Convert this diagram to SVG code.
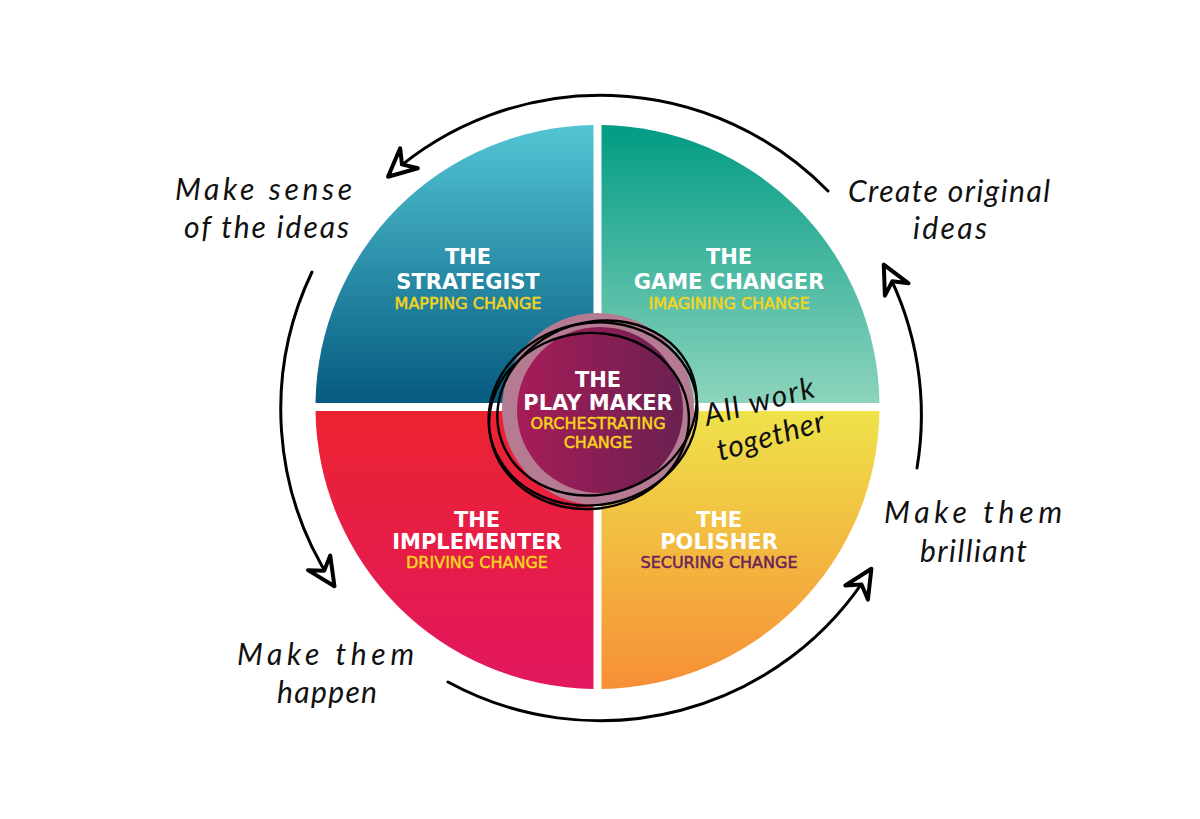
<svg xmlns="http://www.w3.org/2000/svg" width="1200" height="819" viewBox="0 0 1200 819">
<defs>
<linearGradient id="gTL" x1="0" y1="0" x2="0" y2="1"><stop offset="0" stop-color="#53c5d4"/><stop offset="1" stop-color="#055a7f"/></linearGradient>
<linearGradient id="gTR" x1="0" y1="0" x2="0" y2="1"><stop offset="0" stop-color="#029b84"/><stop offset="1" stop-color="#8dd4bd"/></linearGradient>
<linearGradient id="gBL" x1="0" y1="0" x2="0" y2="1"><stop offset="0" stop-color="#eb2330"/><stop offset="1" stop-color="#e2175f"/></linearGradient>
<linearGradient id="gBR" x1="0" y1="0" x2="0" y2="1"><stop offset="0" stop-color="#efe24a"/><stop offset="1" stop-color="#f68f36"/></linearGradient>
<linearGradient id="gC" x1="0" y1="0" x2="1" y2="0"><stop offset="0" stop-color="#a61c58"/><stop offset="1" stop-color="#6a2150"/></linearGradient>
<marker id="arrow" markerUnits="userSpaceOnUse" markerWidth="40" markerHeight="40" refX="0" refY="0" viewBox="-25 -15 30 30" orient="auto" overflow="visible">
<path d="M2,0 L-19,-10 L-12,0 L-19,10 Z" fill="#fff" stroke="#000" stroke-width="3" stroke-linejoin="round"/>
</marker>
</defs>
<style>
.title{font-family:"DejaVu Sans",sans-serif;font-weight:bold;font-size:21px;fill:#fff;text-anchor:middle}
.sub{font-family:"DejaVu Sans",sans-serif;font-size:16px;fill:#f5d51c;text-anchor:middle;stroke:#f5d51c;stroke-width:0.5}
.hand{font-family:"Lato",sans-serif;font-style:italic;font-weight:400;font-size:30px;fill:#111}
.conn{fill:none;stroke:#000;stroke-width:3;stroke-linecap:round;marker-end:url(#arrow)}
.scrib{fill:none;stroke:#000;stroke-width:2.4}
</style>
<rect width="1200" height="819" fill="#fff"/>

<g id="node-strategist">
<path d="M593.5,403 L593.5,125 A282,282 0 0 0 315.5,403 Z" fill="url(#gTL)"/>
<text class="title" x="468" y="264">THE</text>
<text class="title" x="468" y="289">STRATEGIST</text>
<text class="sub" x="468" y="309">MAPPING CHANGE</text>
</g>

<g id="node-gamechanger">
<path d="M601.5,403 L601.5,125 A282,282 0 0 1 879.5,403 Z" fill="url(#gTR)"/>
<text class="title" x="729" y="264">THE</text>
<text class="title" x="729" y="289">GAME CHANGER</text>
<text class="sub" x="729" y="309">IMAGINING CHANGE</text>
</g>

<g id="node-implementer">
<path d="M593.5,411 L315.5,411 A282,282 0 0 0 593.5,689 Z" fill="url(#gBL)"/>
<text class="title" x="477" y="527">THE</text>
<text class="title" x="477" y="549">IMPLEMENTER</text>
<text class="sub" x="477" y="568">DRIVING CHANGE</text>
</g>

<g id="node-polisher">
<path d="M601.5,411 L879.5,411 A282,282 0 0 1 601.5,689 Z" fill="url(#gBR)"/>
<text class="title" x="719" y="527">THE</text>
<text class="title" x="719" y="549">POLISHER</text>
<text class="sub" x="719" y="568" style="fill:#6b2459;stroke:#6b2459">SECURING CHANGE</text>
</g>

<g id="node-playmaker">
<circle cx="598" cy="409" r="96" fill="#b57b93"/>
<circle cx="600" cy="410" r="83" fill="url(#gC)"/>
<text class="title" x="598" y="387">THE</text>
<text class="title" x="598" y="410">PLAY MAKER</text>
<text class="sub" x="598" y="429">ORCHESTRATING</text>
<text class="sub" x="598" y="448">CHANGE</text>
<ellipse class="scrib" cx="593" cy="414" rx="105" ry="91" transform="rotate(-12 593 414)"/>
<ellipse class="scrib" cx="597" cy="408" rx="101" ry="86" transform="rotate(-18 597 408)"/>
<ellipse class="scrib" cx="589" cy="421" rx="100" ry="88" transform="rotate(-6 589 421)"/>
</g>

<g id="connectors">
<path class="conn" d="M828,191 A318,318 0 0 0 390,175"/>
<path class="conn" d="M312,272 A318,318 0 0 0 333,584"/>
<path class="conn" d="M448,682 A318,318 0 0 0 870,571"/>
<path class="conn" d="M917,468 A320,320 0 0 0 885,267"/>
</g>

<g id="labels">
<text class="hand" x="175" y="200" textLength="177">Make sense</text>
<text class="hand" x="184" y="238" textLength="165">of the ideas</text>
<text class="hand" x="848" y="202" textLength="202">Create original</text>
<text class="hand" x="913" y="239" textLength="74">ideas</text>
<text class="hand" x="884" y="523" textLength="178">Make them</text>
<text class="hand" x="920" y="562" textLength="107">brilliant</text>
<text class="hand" x="237" y="665" textLength="177">Make them</text>
<text class="hand" x="277" y="703" textLength="100">happen</text>
<text class="hand" x="707" y="426" textLength="113" transform="rotate(-15 707 426)">All work</text>
<text class="hand" x="720" y="461" textLength="111" transform="rotate(-16 720 461)">together</text>
</g>
</svg>
